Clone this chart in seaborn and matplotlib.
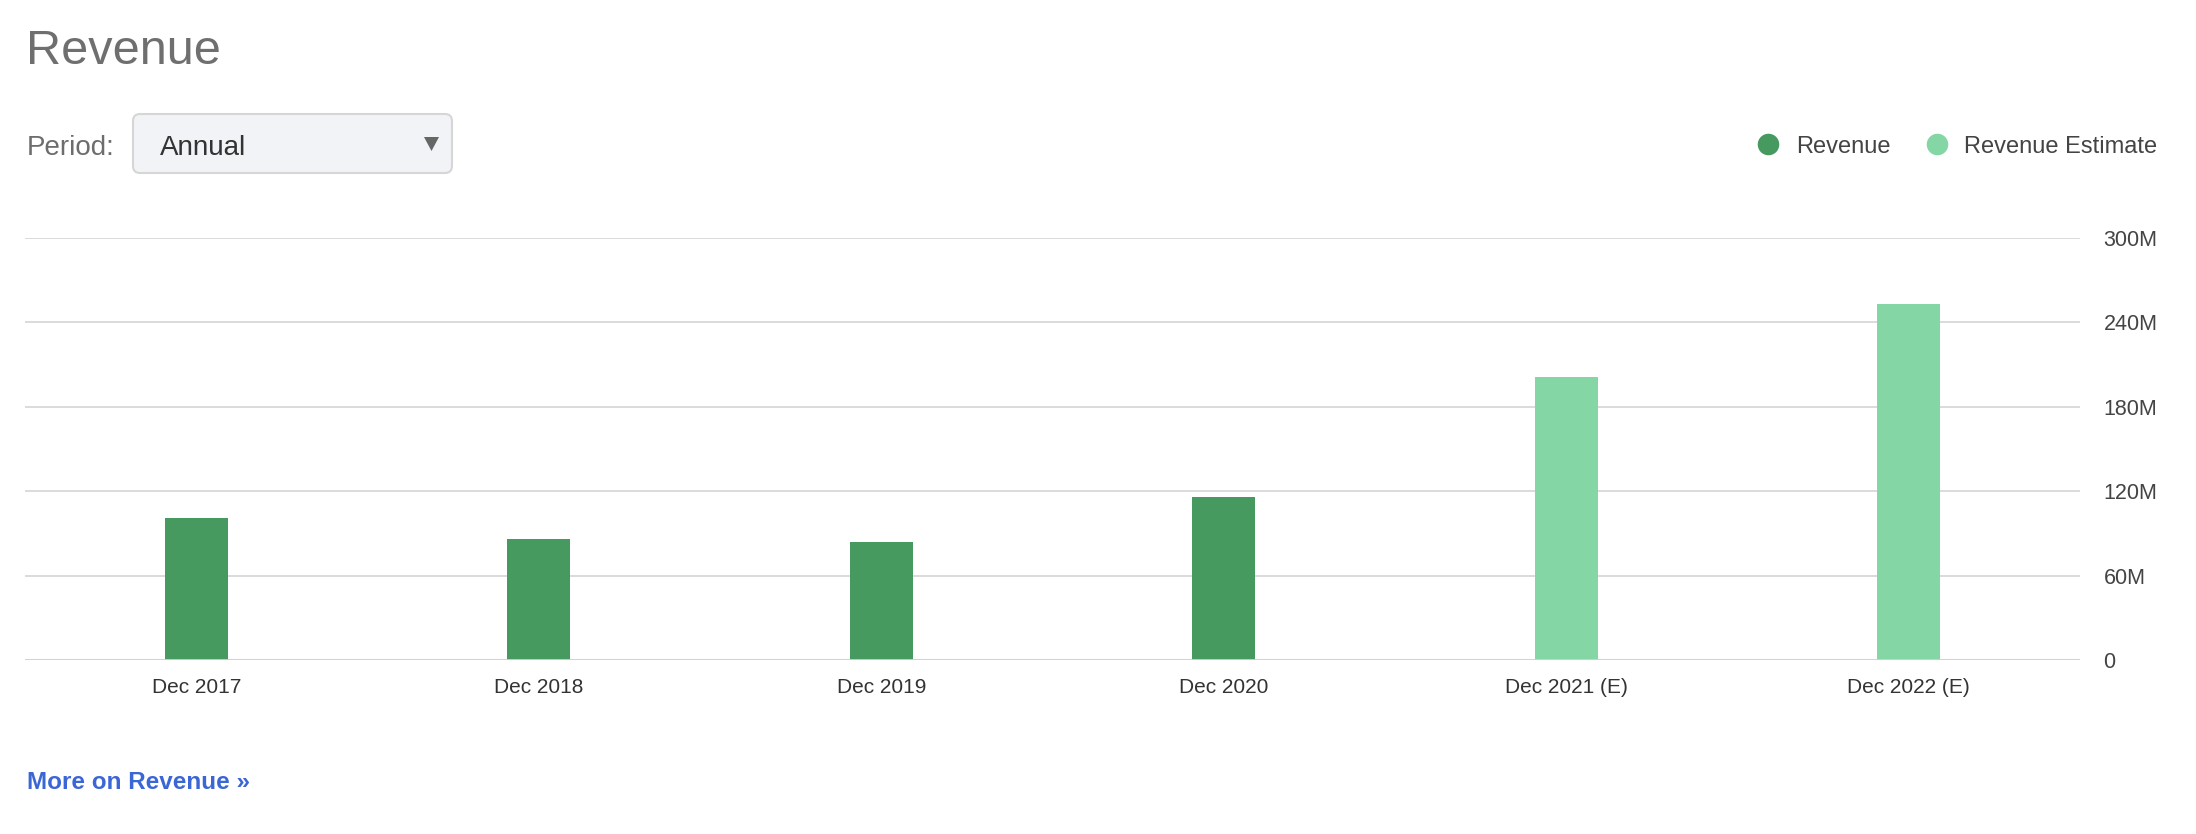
import matplotlib.pyplot as plt
import matplotlib.ticker as mticker
from matplotlib.lines import Line2D
from matplotlib.patches import FancyBboxPatch, Polygon
import pandas as pd
import seaborn as sns

# values in millions
periods = ["Dec 2017", "Dec 2018", "Dec 2019", "Dec 2020", "Dec 2021 (E)", "Dec 2022 (E)"]
series = ["Revenue", "Revenue", "Revenue", "Revenue", "Revenue Estimate", "Revenue Estimate"]
revenue_m = [101, 86, 84, 116, 201, 253]
y_ticks_m = [0, 60, 120, 180, 240, 300]
colors = {"Revenue": "#46995f", "Revenue Estimate": "#85d6a5"}

W, H = 2196, 834

sns.set_theme(style="white")
plt.rcParams["font.family"] = ["Liberation Sans", "DejaVu Sans"]

fig = plt.figure(figsize=(W / 100, H / 100), dpi=100)
ax = fig.add_axes([25 / W, 1 - 660 / H, (2080 - 25) / W, (660 - 238) / H])

df = pd.DataFrame({"period": periods, "series": series, "value": revenue_m})
sns.barplot(data=df, x="period", y="value", hue="series", palette=colors,
            dodge=False, width=0.185, saturation=1, legend=False, linewidth=0, ax=ax)

ax.set_xlim(-0.5, len(periods) - 0.5)
ax.set_ylim(0, 300)
ax.set_yticks(y_ticks_m)
ax.yaxis.set_major_formatter(mticker.FuncFormatter(lambda v, _: "0" if v == 0 else f"{v:.0f}M"))
ax.yaxis.tick_right()
ax.yaxis.grid(True, color="#dadada", linewidth=1.4)
ax.set_axisbelow(True)
ax.axhline(0, color="#c6d2ea", linewidth=2, zorder=3)
for s in ax.spines.values():
    s.set_visible(False)
ax.tick_params(axis="y", length=0, pad=17, labelsize=15.5, labelcolor="#444444")
ax.tick_params(axis="x", length=0, pad=13, labelsize=15, labelcolor="#333333")
ax.set_xlabel("")
ax.set_ylabel("")

# overlay in pixel coordinates for the page furniture
ov = fig.add_axes([0, 0, 1, 1])
ov.set_xlim(0, W)
ov.set_ylim(H, 0)
ov.axis("off")
ov.patch.set_alpha(0)

ov.text(26, 64, "Revenue", fontsize=35, color="#6f6f6f", va="baseline")
ov.text(27, 155, "Period:", fontsize=20, color="#6d6d6d", va="baseline")
ov.add_patch(FancyBboxPatch((133, 114), 319, 59, boxstyle="round,pad=0,rounding_size=7",
                            facecolor="#f2f3f6", edgecolor="#d6d6d6", linewidth=1.5))
ov.text(160, 155, "Annual", fontsize=20, color="#333333", va="baseline")
ov.add_patch(Polygon([(424, 137), (439, 137), (431.5, 151)], closed=True,
                     facecolor="#666666", edgecolor="none"))

for cx, tx, label, key in [(1768, 1796, "Revenue", "Revenue"),
                           (1937, 1964, "Revenue Estimate", "Revenue Estimate")]:
    ov.add_line(Line2D([cx], [144], marker="o", markersize=14.5, color=colors[key], linestyle="none"))
    ov.text(tx, 153, label, fontsize=17, color="#444444", va="baseline")

ov.text(27, 789, "More on Revenue \u00bb", fontsize=17.5, fontweight="bold",
        color="#3b66d6", va="baseline")

fig.savefig("out.png", dpi=100)
